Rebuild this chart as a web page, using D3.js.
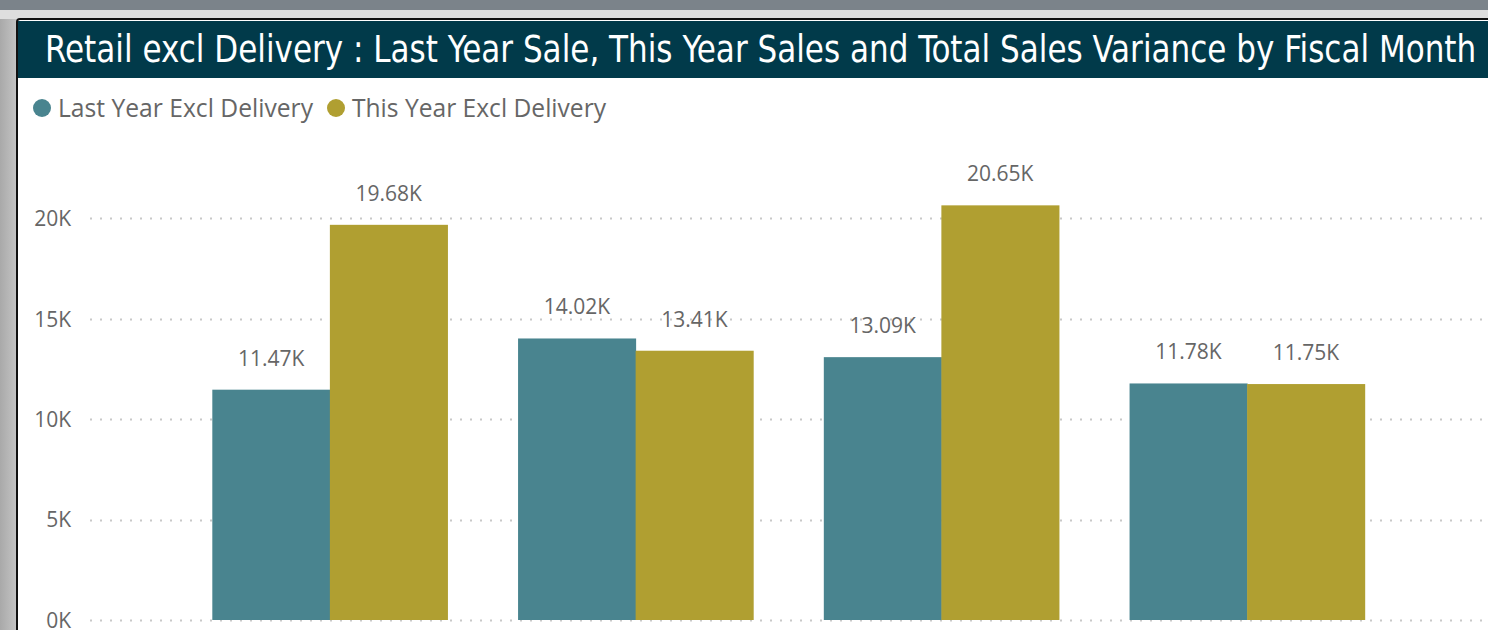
<!DOCTYPE html>
<html><head><meta charset="utf-8">
<script src="https://cdn.jsdelivr.net/npm/d3@7"></script>
<style>html,body{margin:0;padding:0;background:#fff;overflow:hidden}</style>
</head><body>
<svg id="c" width="1488" height="630"></svg>
<script>
const months = ["P1", "P2", "P3", "P4"];
const seriesNames = ["Last Year Excl Delivery", "This Year Excl Delivery"];
const lastYear = [11470, 14020, 13090, 11780];
const thisYear = [19680, 13410, 20650, 11750];
const lastYearLabels = ["11.47K", "14.02K", "13.09K", "11.78K"];
const thisYearLabels = ["19.68K", "13.41K", "20.65K", "11.75K"];
const yTicks = [0, 5000, 10000, 15000, 20000];
const colors = ["#49848f", "#b09f31"];
const title = "Retail excl Delivery : Last Year Sale, This Year Sales and Total Sales Variance by Fiscal Month";

const svg = d3.select("#c");
const defs = svg.append("defs");
const lg = defs.append("linearGradient").attr("id","lg").attr("x1","0").attr("x2","1");
lg.append("stop").attr("offset","0").attr("stop-color","#a9a9a9");
lg.append("stop").attr("offset","1").attr("stop-color","#c6c6c6");

// frame background
svg.append("rect").attr("x",0).attr("y",0).attr("width",1488).attr("height",630).attr("fill","#d9d9d9");
svg.append("rect").attr("x",0).attr("y",0).attr("width",18).attr("height",630).attr("fill","url(#lg)");
svg.append("rect").attr("x",0).attr("y",0).attr("width",1488).attr("height",10).attr("fill","#7b838a");
svg.append("rect").attr("x",0).attr("y",10).attr("width",1488).attr("height",9).attr("fill","#dedede");
// panel
svg.append("rect").attr("x",17).attr("y",19).attr("width",1480).attr("height",620).attr("rx",3)
  .attr("fill","#fff").attr("stroke","#111").attr("stroke-width",2);
// title bar
svg.append("rect").attr("x",18).attr("y",21).attr("width",1470).attr("height",57).attr("fill","#013a4a");
const tg = svg.append("g").attr("transform","translate(45,62)");
const tt = tg.append("text").attr("x",0).attr("y",0).attr("fill","#fff")
  .attr("font-family","'DejaVu Sans Condensed','Roboto',sans-serif").attr("font-size",37).text(title);
const tw = tt.node().getComputedTextLength();
tt.attr("transform",`scale(${1432/tw},1)`);

// legend
const legendX = [42, 336];
const legendTextW = [255, 254];
seriesNames.forEach((n,i)=>{
  svg.append("circle").attr("cx",legendX[i]).attr("cy",108).attr("r",9).attr("fill",colors[i]);
  svg.append("text").attr("x",legendX[i]+16).attr("y",117).attr("fill","#666")
    .attr("font-family","'Open Sans','Noto Sans',sans-serif").attr("font-size",25)
    .attr("textLength",legendTextW[i]).attr("lengthAdjust","spacingAndGlyphs").text(n);
});

// scales
const y = d3.scaleLinear().domain([0,20000]).range([620,218.4]);
const x0 = d3.scaleBand().domain(months).range([177,1400]).paddingInner(0.231).paddingOuter(0.1155);
const x1 = d3.scaleBand().domain([0,1]).range([0,x0.bandwidth()]).padding(0);

// grid
const g = svg.append("g");
g.selectAll("line.grid").data(yTicks).join("line")
  .attr("x1",90).attr("x2",1484).attr("y1",d=>Math.round(y(d))+0.5).attr("y2",d=>Math.round(y(d))+0.5)
  .attr("stroke","#c8c8c8").attr("stroke-width",2).attr("stroke-dasharray","2,8");

// y axis
const yAxis = d3.axisLeft(y).tickValues(yTicks).tickFormat(d=>(d/1000)+"K").tickSize(0).tickPadding(0);
const ya = svg.append("g").attr("transform","translate(71,0)").call(yAxis);
ya.select(".domain").remove();
ya.selectAll("text").attr("fill","#666").attr("font-size",21)
  .attr("font-family","'Open Sans','Noto Sans',sans-serif").attr("dy","0.35em");

// bars
const data = months.map((m,i)=>({m, vals:[lastYear[i], thisYear[i]], labels:[lastYearLabels[i], thisYearLabels[i]]}));
const groups = svg.append("g").selectAll("g").data(data).join("g")
  .attr("transform",d=>`translate(${x0(d.m)},0)`);
groups.selectAll("rect").data(d=>d.vals.map((v,k)=>({v,k}))).join("rect")
  .attr("x",d=>x1(d.k)).attr("width",x1.bandwidth()+0.5)
  .attr("y",d=>y(d.v)).attr("height",d=>y(0)-y(d.v)).attr("fill",d=>colors[d.k]);
groups.selectAll("text").data(d=>d.vals.map((v,k)=>({v,k,l:d.labels[k]}))).join("text")
  .attr("x",d=>x1(d.k)+x1.bandwidth()/2).attr("y",d=>y(d.v)-24)
  .attr("text-anchor","middle").attr("fill","#666").attr("font-size",21)
  .attr("font-family","'Open Sans','Noto Sans',sans-serif").text(d=>d.l);
</script>
</body></html>
